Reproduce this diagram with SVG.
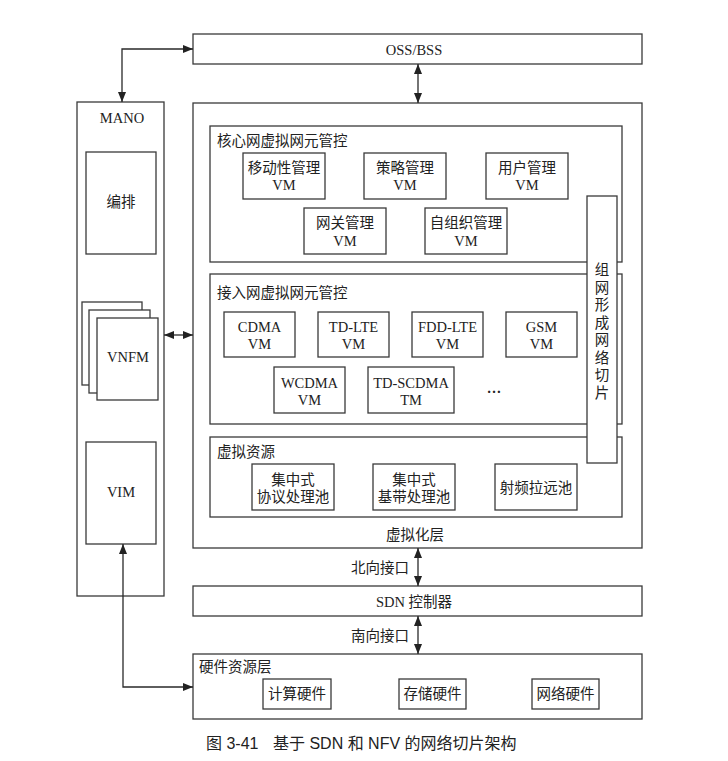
<svg xmlns="http://www.w3.org/2000/svg" width="728" height="761" viewBox="0 0 728 761">
<style>
.b{fill:#fff;stroke:#3a3a3a;stroke-width:1.3}
.t{font-family:"Liberation Serif","Noto Sans CJK SC",serif;font-size:14.5px;fill:#222;text-anchor:middle}
.l{font-family:"Liberation Serif","Noto Sans CJK SC",serif;font-size:14.5px;fill:#222}
.c{fill:none;stroke:#2a2a2a;stroke-width:1.3}
.cap{font-family:"Liberation Sans","Noto Sans CJK SC",sans-serif;font-size:16px;fill:#222}
</style>
<defs>
<marker id="ah" viewBox="0 0 10 8" refX="10" refY="4" markerWidth="10" markerHeight="8" markerUnits="userSpaceOnUse" orient="auto-start-reverse">
<path d="M0,0 L10,4 L0,8 Z" fill="#222"/>
</marker>
</defs>
<rect width="728" height="761" fill="#fff"/>

<g id="oss"><rect class="b" x="193" y="34" width="449" height="30"/><text class="t" x="414" y="55">OSS/BSS</text></g>

<g id="mano"><rect class="b" x="77" y="102" width="87" height="494"/><text class="t" x="122" y="123">MANO</text></g>
<g id="orch"><rect class="b" x="86" y="152" width="70" height="102"/><text class="t" x="121" y="207">编排</text></g>
<g id="vnfm">
<rect class="b" x="82" y="302" width="60" height="83"/>
<rect class="b" x="89" y="310" width="61" height="83"/>
<rect class="b" x="97" y="318" width="61" height="82"/>
<text class="t" x="128" y="362">VNFM</text>
</g>
<g id="vim"><rect class="b" x="86" y="442" width="70" height="102"/><text class="t" x="121" y="497">VIM</text></g>

<g id="virt"><rect class="b" x="193" y="103" width="449" height="445"/><text class="t" x="415" y="540">虚拟化层</text></g>

<g id="core"><rect class="b" x="210" y="126" width="412" height="136"/><text class="l" x="217" y="146">核心网虚拟网元管控</text></g>
<g id="mob"><rect class="b" x="243" y="153" width="82" height="46"/><text class="t" x="284" y="173">移动性管理</text><text class="t" x="284" y="190">VM</text></g>
<g id="pol"><rect class="b" x="364" y="153" width="82" height="46"/><text class="t" x="405" y="173">策略管理</text><text class="t" x="405" y="190">VM</text></g>
<g id="usr"><rect class="b" x="486" y="153" width="82" height="46"/><text class="t" x="527" y="173">用户管理</text><text class="t" x="527" y="190">VM</text></g>
<g id="gw"><rect class="b" x="304" y="208" width="82" height="46"/><text class="t" x="345" y="228">网关管理</text><text class="t" x="345" y="246">VM</text></g>
<g id="son"><rect class="b" x="425" y="208" width="82" height="46"/><text class="t" x="466" y="228">自组织管理</text><text class="t" x="466" y="246">VM</text></g>

<g id="access"><rect class="b" x="210" y="274" width="412" height="150"/><text class="l" x="217" y="298">接入网虚拟网元管控</text></g>
<g id="cdma"><rect class="b" x="224" y="312" width="71" height="45"/><text class="t" x="259.5" y="332">CDMA</text><text class="t" x="259.5" y="349">VM</text></g>
<g id="tdlte"><rect class="b" x="318" y="312" width="71" height="45"/><text class="t" x="353.5" y="332">TD-LTE</text><text class="t" x="353.5" y="349">VM</text></g>
<g id="fddlte"><rect class="b" x="412" y="312" width="71" height="45"/><text class="t" x="447.5" y="332">FDD-LTE</text><text class="t" x="447.5" y="349">VM</text></g>
<g id="gsm"><rect class="b" x="506" y="312" width="71" height="45"/><text class="t" x="541.5" y="332">GSM</text><text class="t" x="541.5" y="349">VM</text></g>
<g id="wcdma"><rect class="b" x="274" y="367" width="71" height="46"/><text class="t" x="309.5" y="388">WCDMA</text><text class="t" x="309.5" y="405">VM</text></g>
<g id="tdscdma"><rect class="b" x="368" y="367" width="86" height="46"/><text class="t" x="411" y="388">TD-SCDMA</text><text class="t" x="411" y="405">TM</text></g>
<g id="more"><text class="t" x="494" y="393" style="font-weight:bold">…</text></g>

<g id="vres"><rect class="b" x="210" y="437" width="412" height="80"/><text class="l" x="217" y="457">虚拟资源</text></g>
<g id="proto"><rect class="b" x="252" y="464" width="82" height="46"/><text class="t" x="293" y="485">集中式</text><text class="t" x="293" y="502">协议处理池</text></g>
<g id="bb"><rect class="b" x="373" y="464" width="82" height="46"/><text class="t" x="414" y="485">集中式</text><text class="t" x="414" y="502">基带处理池</text></g>
<g id="rru"><rect class="b" x="495" y="464" width="82" height="46"/><text class="t" x="536" y="493">射频拉远池</text></g>

<g id="slice"><rect class="b" x="587" y="196" width="30" height="267"/>
<text class="t" x="602" y="275">组</text><text class="t" x="602" y="292.5">网</text><text class="t" x="602" y="310">形</text><text class="t" x="602" y="327.5">成</text><text class="t" x="602" y="345">网</text><text class="t" x="602" y="362.5">络</text><text class="t" x="602" y="380">切</text><text class="t" x="602" y="397.5">片</text>
</g>

<g id="sdn"><rect class="b" x="193" y="586" width="449" height="30"/><text class="t" x="414" y="607">SDN 控制器</text></g>

<g id="hw"><rect class="b" x="193" y="654" width="449" height="65"/><text class="l" x="199" y="672">硬件资源层</text></g>
<g id="comp"><rect class="b" x="263" y="679" width="68" height="30"/><text class="t" x="297" y="699">计算硬件</text></g>
<g id="stor"><rect class="b" x="399" y="679" width="67" height="30"/><text class="t" x="432.5" y="699">存储硬件</text></g>
<g id="net"><rect class="b" x="532" y="679" width="67" height="30"/><text class="t" x="565.5" y="699">网络硬件</text></g>

<g id="connectors">
<path class="c" d="M122,102 V49 H193" marker-start="url(#ah)" marker-end="url(#ah)"/>
<path class="c" d="M418,64 V103" marker-start="url(#ah)" marker-end="url(#ah)"/>
<path class="c" d="M164,335 H193" marker-start="url(#ah)" marker-end="url(#ah)"/>
<path class="c" d="M418,548 V586" marker-start="url(#ah)" marker-end="url(#ah)"/>
<path class="c" d="M418,616 V654" marker-start="url(#ah)" marker-end="url(#ah)"/>
<path class="c" d="M123,544 V687 H193" marker-start="url(#ah)" marker-end="url(#ah)"/>
<text class="l" x="409" y="573" text-anchor="end">北向接口</text>
<text class="l" x="409" y="641" text-anchor="end">南向接口</text>
</g>

<g id="caption"><text class="cap" x="206" y="749">图 3-41</text><text class="cap" x="273" y="749">基于 SDN 和 NFV 的网络切片架构</text></g>
</svg>
